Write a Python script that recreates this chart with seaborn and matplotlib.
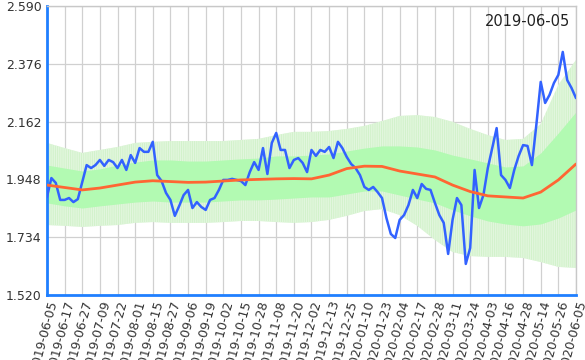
import numpy as np
import matplotlib
matplotlib.use("Agg")
import matplotlib.pyplot as plt
import seaborn as sns

# x tick labels (one every 4 samples of the price series)
tick_dates = [
    "2019-06-05", "2019-06-17", "2019-06-27", "2019-07-09", "2019-07-22",
    "2019-08-01", "2019-08-15", "2019-08-27", "2019-09-06", "2019-09-19",
    "2019-10-02", "2019-10-15", "2019-10-28", "2019-11-08", "2019-11-20",
    "2019-12-02", "2019-12-13", "2019-12-25", "2020-01-10", "2020-01-23",
    "2020-02-04", "2020-02-17", "2020-02-28", "2020-03-11", "2020-03-24",
    "2020-04-03", "2020-04-16", "2020-04-28", "2020-05-14", "2020-05-26",
    "2020-06-05",
]

# price (blue line)
price = [
    1.883, 1.953, 1.935, 1.872, 1.872, 1.879, 1.864, 1.875, 1.938, 2.001,
    1.990, 2.001, 2.020, 1.998, 2.020, 2.012, 1.990, 2.020, 1.983, 2.038,
    2.009, 2.064, 2.050, 2.050, 2.087, 1.964, 1.942, 1.898, 1.872, 1.813,
    1.850, 1.890, 1.909, 1.842, 1.864, 1.846, 1.835, 1.872, 1.879, 1.909,
    1.946, 1.946, 1.950, 1.946, 1.942, 1.927, 1.975, 2.012, 1.983, 2.064,
    1.968, 2.083, 2.120, 2.057, 2.057, 1.990, 2.020, 2.027, 2.009, 1.975,
    2.057, 2.035, 2.057, 2.050, 2.068, 2.027, 2.087, 2.064, 2.031, 2.005,
    1.990, 1.964, 1.920, 1.909, 1.920, 1.901, 1.879, 1.805, 1.746, 1.731,
    1.798, 1.816, 1.853, 1.909, 1.879, 1.931, 1.913, 1.909, 1.861, 1.816,
    1.787, 1.672, 1.798, 1.879, 1.853, 1.635, 1.694, 1.983, 1.842, 1.890,
    1.990, 2.064, 2.138, 1.964, 1.946, 1.916, 1.983, 2.035, 2.075, 2.072,
    2.001, 2.149, 2.309, 2.231, 2.261, 2.305, 2.335, 2.420, 2.316, 2.286,
    2.249,
]

# moving average (red line), one value per tick
ma = [
    1.927, 1.918, 1.909, 1.916, 1.927, 1.938, 1.943, 1.940, 1.937, 1.938,
    1.942, 1.946, 1.948, 1.950, 1.951, 1.950, 1.964, 1.988, 1.997, 1.996,
    1.979, 1.968, 1.957, 1.927, 1.903, 1.887, 1.883, 1.879, 1.901, 1.946,
    2.005,
]

# bands, one value per tick
upper2 = [
    2.083, 2.064, 2.046, 2.057, 2.068, 2.083, 2.087, 2.090, 2.090, 2.090,
    2.090, 2.094, 2.098, 2.112, 2.124, 2.124, 2.127, 2.135, 2.146, 2.164,
    2.183, 2.186, 2.179, 2.161, 2.135, 2.112, 2.094, 2.098, 2.153, 2.298,
    2.390,
]
upper1 = [
    2.001, 1.990, 1.979, 1.987, 2.001, 2.012, 2.020, 2.020, 2.016, 2.016,
    2.020, 2.024, 2.027, 2.035, 2.035, 2.038, 2.042, 2.053, 2.064, 2.072,
    2.072, 2.068, 2.057, 2.038, 2.024, 2.009, 1.994, 1.998, 2.046, 2.120,
    2.198,
]
lower1 = [
    1.861, 1.850, 1.842, 1.850, 1.857, 1.864, 1.868, 1.864, 1.864, 1.864,
    1.868, 1.872, 1.872, 1.875, 1.879, 1.883, 1.883, 1.894, 1.905, 1.905,
    1.890, 1.875, 1.861, 1.835, 1.813, 1.794, 1.783, 1.776, 1.783, 1.805,
    1.835,
]
lower2 = [
    1.779, 1.776, 1.772, 1.776, 1.779, 1.787, 1.790, 1.787, 1.787, 1.787,
    1.790, 1.794, 1.794, 1.790, 1.787, 1.790, 1.798, 1.813, 1.831, 1.838,
    1.816, 1.776, 1.724, 1.679, 1.664, 1.661, 1.661, 1.657, 1.642, 1.624,
    1.620,
]

y_ticks = [1.520, 1.734, 1.948, 2.162, 2.376, 2.590]
stamp = "2019-06-05"

step = (len(price) - 1) // (len(tick_dates) - 1)
px = np.arange(len(price))
bx = np.arange(len(ma)) * step

sns.set_theme(style="white")
plt.rcParams["font.family"] = ["DejaVu Sans"]
plt.rcParams["hatch.linewidth"] = 0.6

fig = plt.figure(figsize=(5.85, 3.6), dpi=100)
ax = fig.add_axes([0.0803, 0.1806, 0.9043, 0.8027])

# bands
ax.fill_between(bx, lower2, upper2, facecolor="#d2f2cb", edgecolor="#e6f8e2",
                hatch="|" * 9, linewidth=0, zorder=1)
ax.fill_between(bx, lower1, upper1, color="#b2fab2", linewidth=0, zorder=2)

# lines
sns.lineplot(x=px, y=price, color="#3262ff", linewidth=1.8, ax=ax, zorder=3)
sns.lineplot(x=bx, y=ma, color="#ff6633", linewidth=2, ax=ax, zorder=4)

ax.set_xlim(0, len(price) - 1)
ax.set_ylim(y_ticks[0], y_ticks[-1])
ax.set_yticks(y_ticks)
ax.set_yticklabels([f"{v:.3f}" for v in y_ticks])
ax.set_xticks(bx)
ax.set_xticklabels(tick_dates, rotation=75, ha="right", rotation_mode="anchor")
ax.tick_params(axis="both", length=0, labelsize=9, colors="#333333")
ax.tick_params(axis="y", pad=4)
ax.tick_params(axis="x", pad=3)
ax.set_xlabel("")
ax.set_ylabel("")

ax.grid(True, color="#d0d0d0", linewidth=0.9)
ax.set_axisbelow(True)

for side in ["top", "right"]:
    ax.spines[side].set_color("#c8c8c8")
    ax.spines[side].set_linewidth(1)
for side in ["left", "bottom"]:
    ax.spines[side].set_color("#1f7fff")
    ax.spines[side].set_linewidth(2)

ax.text(0.989, 0.972, stamp, transform=ax.transAxes, ha="right", va="top",
        fontsize=10.5, color="#222222", zorder=5)

fig.savefig("out.png", dpi=100)
